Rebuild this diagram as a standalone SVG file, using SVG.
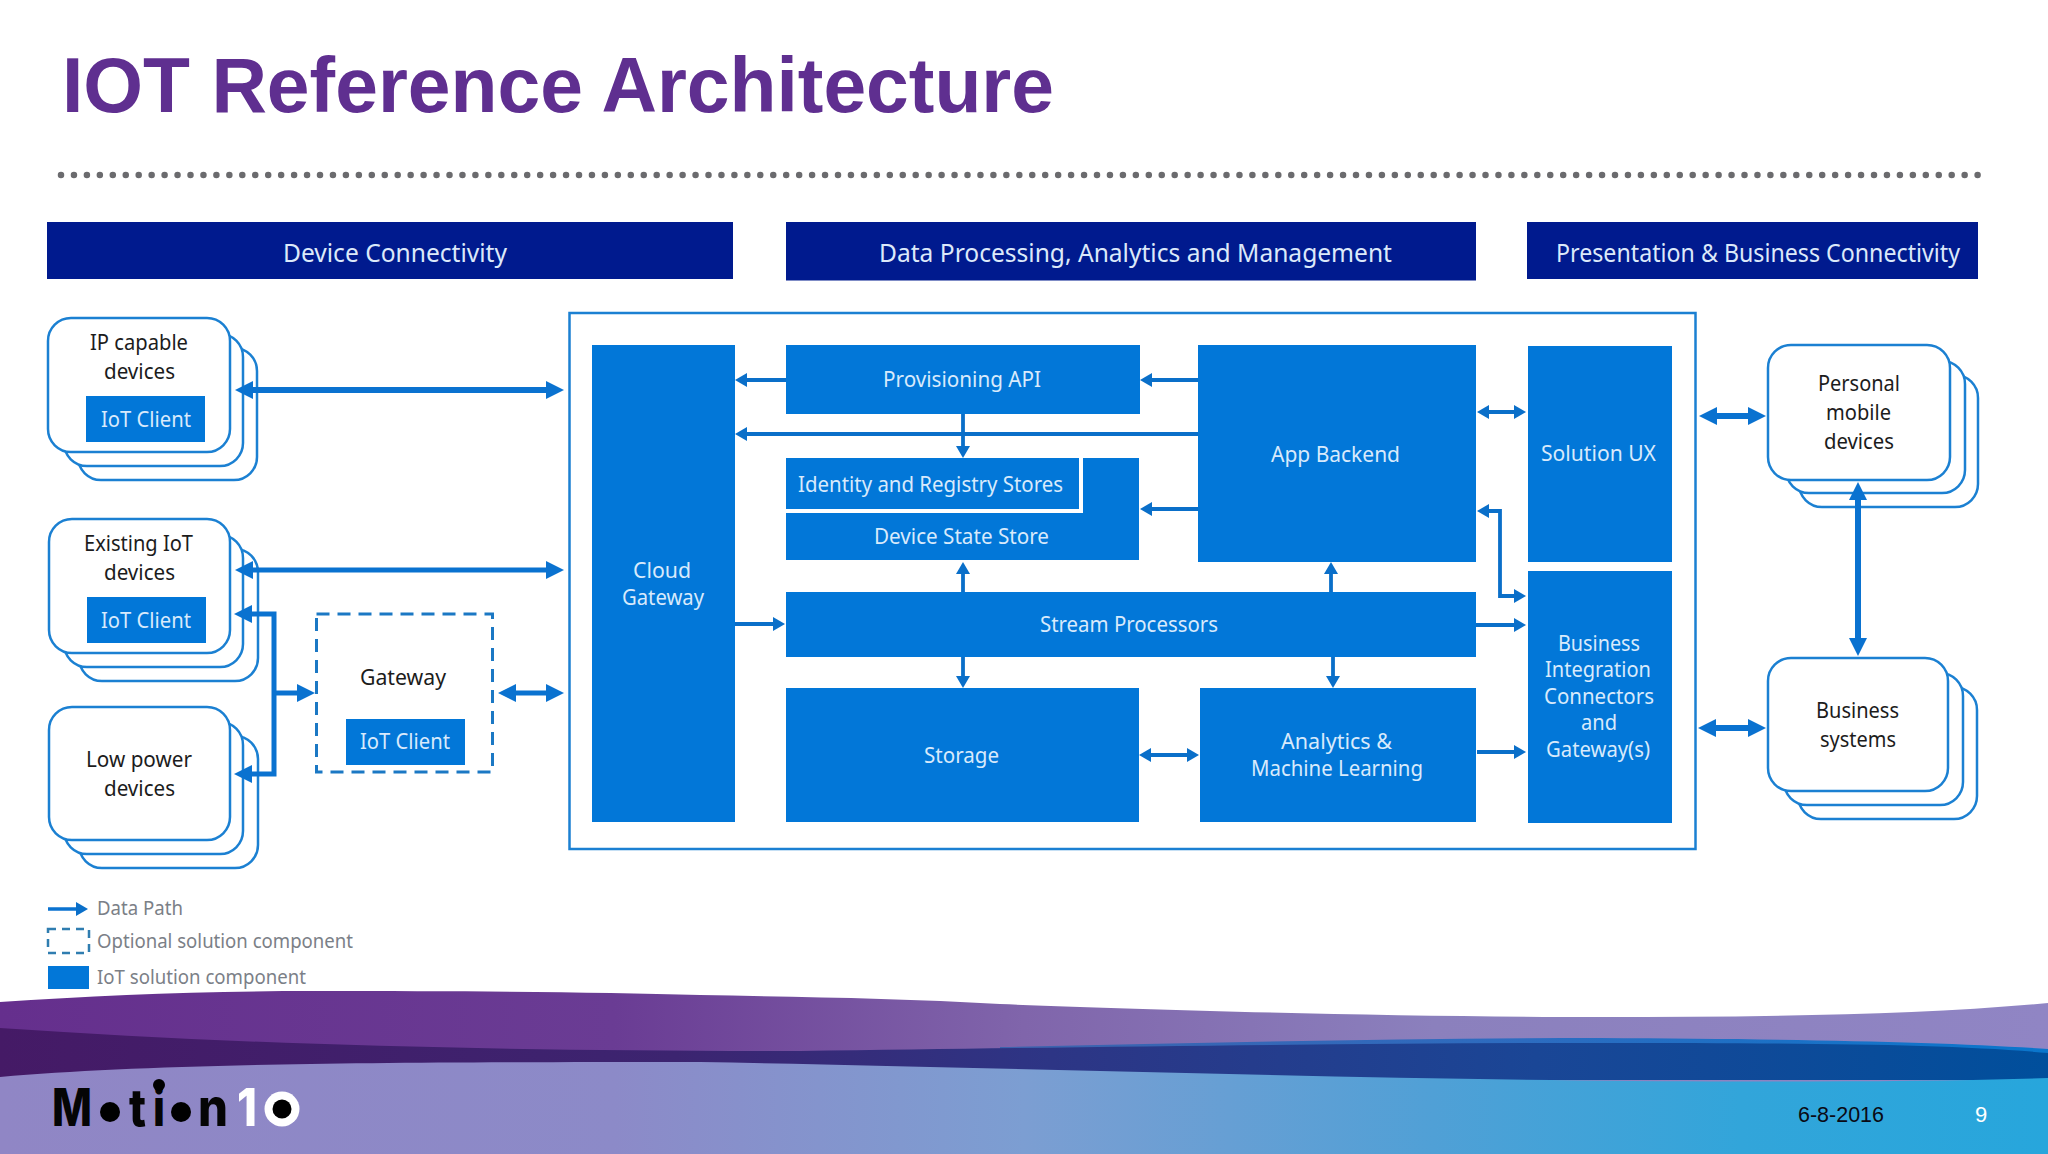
<svg xmlns="http://www.w3.org/2000/svg" width="2048" height="1154" viewBox="0 0 2048 1154">
<style>
text{font-family:"Noto Sans","Open Sans",sans-serif}
.hdr{fill:#001a8e}
.box{fill:#0277d8}
.card{fill:#fff;stroke:#1b80d2;stroke-width:2.5}
.hd{font-size:25.5px;fill:#dce9fa}
.w{font-size:22px;fill:#d8eafc}
.k{font-size:22px;fill:#1c1c1c}
.lg{font-size:20px;fill:#7b8087}
.logo{font-family:"Inter",sans-serif;font-weight:800;font-size:52px;fill:#050505}
.thick{fill:none;stroke:#0a72d0;stroke-width:6;marker-start:url(#hl);marker-end:url(#hl)}
.mid{fill:none;stroke:#0a72d0;stroke-width:5;marker-start:url(#hl);marker-end:url(#hl)}
.thin{fill:none;stroke:#0a6fc9;stroke-width:3.8;marker-end:url(#hs)}
.both{marker-start:url(#hs)}
</style>
<defs>
<marker id="hl" markerUnits="userSpaceOnUse" markerWidth="18" markerHeight="18" refX="8" refY="9" orient="auto-start-reverse"><path d="M0,0 L18,9 L0,18 Z" fill="#0a72d0"/></marker>
<marker id="hs" markerUnits="userSpaceOnUse" markerWidth="12" markerHeight="14" refX="4" refY="7" orient="auto-start-reverse"><path d="M0,0 L12,7 L0,14 Z" fill="#0a6fc9"/></marker>
<linearGradient id="g1" gradientUnits="userSpaceOnUse" x1="0" y1="0" x2="2048" y2="0"><stop offset="0" stop-color="#652f8d"/><stop offset=".3" stop-color="#6a3c94"/><stop offset=".5" stop-color="#8065ab"/><stop offset=".7" stop-color="#8b80bd"/><stop offset="1" stop-color="#9085c4"/></linearGradient>
<linearGradient id="g2" gradientUnits="userSpaceOnUse" x1="0" y1="0" x2="2048" y2="0"><stop offset="0" stop-color="#451a66"/><stop offset=".33" stop-color="#3c2470"/><stop offset=".5" stop-color="#2e3484"/><stop offset=".75" stop-color="#1a4696"/><stop offset="1" stop-color="#004f9c"/></linearGradient>
<linearGradient id="g3" gradientUnits="userSpaceOnUse" x1="0" y1="0" x2="2048" y2="0"><stop offset="0" stop-color="#9086c5"/><stop offset=".3" stop-color="#8c8ac8"/><stop offset=".5" stop-color="#7c9ed2"/><stop offset=".7" stop-color="#50a0d6"/><stop offset=".85" stop-color="#32a5da"/><stop offset="1" stop-color="#27a6dc"/></linearGradient>
<linearGradient id="g4" gradientUnits="userSpaceOnUse" x1="1000" y1="0" x2="2048" y2="0"><stop offset="0" stop-color="#3d62ad"/><stop offset=".5" stop-color="#2d6cc0"/><stop offset="1" stop-color="#0a76cc"/></linearGradient>
</defs>
<rect width="2048" height="1154" fill="#fff"/>

<g id="footer">
<path fill="url(#g1)" d="M0,1002 C100,995 210,991 312,991 C480,991 600,992 700,995 C800,997 900,998 1000,1004 C1150,1010 1400,1017 1600,1017 C1760,1017 1920,1015 2048,1003 V1100 H0 Z"/>
<path fill="url(#g4)" d="M1000,1047 C1200,1043 1400,1038 1600,1038 C1800,1039 1950,1042 2048,1049 V1060 H1000 Z"/>
<path fill="url(#g2)" d="M0,1028 C250,1045 500,1051 800,1051 C1100,1047 1350,1043 1600,1043 C1800,1043 1950,1044 2048,1053 V1080 H0 Z"/>
<path fill="url(#g3)" d="M0,1077 C150,1064 350,1062 700,1062 C1000,1067 1400,1081 1735,1081.5 C1850,1081.5 1950,1081 2048,1078 V1154 H0 Z"/>
</g>

<g id="title"><text x="62" y="112" font-size="77" font-weight="700" fill="#5f2f90" style="font-family:'Liberation Sans',Arial,sans-serif" textLength="992" lengthAdjust="spacingAndGlyphs">IOT Reference Architecture</text></g>
<line x1="61" y1="175" x2="1978" y2="175" stroke="#6b6b6e" stroke-width="6.5" stroke-linecap="round" stroke-dasharray="0 12.95"/>

<g id="hdr-device"><rect class="hdr" x="47" y="222" width="686" height="57"/><text class="hd" x="283" y="262" textLength="224" lengthAdjust="spacingAndGlyphs">Device Connectivity</text></g>
<g id="hdr-data"><rect class="hdr" x="786" y="222" width="690" height="58.5"/><text class="hd" x="879" y="262" textLength="513" lengthAdjust="spacingAndGlyphs">Data Processing, Analytics and Management</text></g>
<g id="hdr-presentation"><rect class="hdr" x="1527" y="222" width="451" height="57"/><text class="hd" x="1556" y="262" textLength="404" lengthAdjust="spacingAndGlyphs">Presentation &amp; Business Connectivity</text></g>

<g id="ip-devices">
<rect class="card" x="78" y="348" width="179" height="132" rx="23"/><rect class="card" x="64" y="334" width="179" height="132" rx="23"/><rect class="card" x="48" y="318" width="182" height="134" rx="23"/>
<text class="k" x="90" y="350" textLength="98" lengthAdjust="spacingAndGlyphs">IP capable</text><text class="k" x="104" y="379" textLength="71" lengthAdjust="spacingAndGlyphs">devices</text>
<rect class="box" x="86" y="396" width="119" height="46"/><text class="w" x="101" y="427" textLength="90" lengthAdjust="spacingAndGlyphs">IoT Client</text>
</g>
<g id="existing-devices">
<rect class="card" x="79" y="549" width="179" height="132" rx="23"/><rect class="card" x="64" y="535" width="179" height="132" rx="23"/><rect class="card" x="49" y="519" width="181" height="134" rx="23"/>
<text class="k" x="84" y="551" textLength="109" lengthAdjust="spacingAndGlyphs">Existing IoT</text><text class="k" x="104" y="580" textLength="71" lengthAdjust="spacingAndGlyphs">devices</text>
<rect class="box" x="87" y="597" width="119" height="46"/><text class="w" x="101" y="628" textLength="90" lengthAdjust="spacingAndGlyphs">IoT Client</text>
</g>
<g id="low-power-devices">
<rect class="card" x="79" y="736" width="179" height="132" rx="23"/><rect class="card" x="64" y="722" width="179" height="132" rx="23"/><rect class="card" x="49" y="707" width="181" height="133" rx="23"/>
<text class="k" x="86" y="767" textLength="106" lengthAdjust="spacingAndGlyphs">Low power</text><text class="k" x="104" y="796" textLength="71" lengthAdjust="spacingAndGlyphs">devices</text>
</g>
<g id="gateway">
<rect x="316.5" y="614" width="176" height="158" fill="#fff" stroke="#1b78c4" stroke-width="3" stroke-dasharray="13 8"/>
<text class="k" x="360" y="685" textLength="86" lengthAdjust="spacingAndGlyphs">Gateway</text>
<rect class="box" x="346" y="719" width="119" height="46"/><text class="w" x="360" y="749" textLength="90" lengthAdjust="spacingAndGlyphs">IoT Client</text>
</g>

<g id="container"><rect x="569.5" y="313" width="1126" height="536" fill="#fff" stroke="#1b80d2" stroke-width="2.5"/></g>

<g id="cloud-gateway"><rect class="box" x="592" y="345" width="143" height="477"/><text class="w" x="633" y="578" textLength="58" lengthAdjust="spacingAndGlyphs">Cloud</text><text class="w" x="622" y="605" textLength="82" lengthAdjust="spacingAndGlyphs">Gateway</text></g>
<g id="provisioning-api"><rect class="box" x="786" y="345" width="354" height="69"/><text class="w" x="883" y="387" textLength="158" lengthAdjust="spacingAndGlyphs">Provisioning API</text></g>
<g id="device-state-store"><rect class="box" x="786" y="458" width="353" height="102"/><text class="w" x="874" y="544" textLength="175" lengthAdjust="spacingAndGlyphs">Device State Store</text></g>
<g id="identity-registry"><path d="M1081,458 V511 H786" fill="none" stroke="#fff" stroke-width="4"/><text class="w" x="798" y="492" textLength="265" lengthAdjust="spacingAndGlyphs">Identity and Registry Stores</text></g>
<g id="app-backend"><rect class="box" x="1198" y="345" width="278" height="217"/><text class="w" x="1271" y="462" textLength="129" lengthAdjust="spacingAndGlyphs">App Backend</text></g>
<g id="stream-processors"><rect class="box" x="786" y="592" width="690" height="65"/><text class="w" x="1040" y="632" textLength="178" lengthAdjust="spacingAndGlyphs">Stream Processors</text></g>
<g id="storage"><rect class="box" x="786" y="688" width="353" height="134"/><text class="w" x="924" y="763" textLength="75" lengthAdjust="spacingAndGlyphs">Storage</text></g>
<g id="analytics"><rect class="box" x="1200" y="688" width="276" height="134"/><text class="w" x="1281" y="749" textLength="111" lengthAdjust="spacingAndGlyphs">Analytics &amp;</text><text class="w" x="1251" y="776" textLength="172" lengthAdjust="spacingAndGlyphs">Machine Learning</text></g>
<g id="solution-ux"><rect class="box" x="1528" y="346" width="144" height="216"/><text class="w" x="1541" y="461" textLength="115" lengthAdjust="spacingAndGlyphs">Solution UX</text></g>
<g id="business-integration"><rect class="box" x="1528" y="571" width="144" height="252"/>
<text class="w" x="1558" y="651" textLength="82" lengthAdjust="spacingAndGlyphs">Business</text><text class="w" x="1545" y="677" textLength="106" lengthAdjust="spacingAndGlyphs">Integration</text><text class="w" x="1544" y="704" textLength="110" lengthAdjust="spacingAndGlyphs">Connectors</text><text class="w" x="1581" y="730" textLength="36" lengthAdjust="spacingAndGlyphs">and</text><text class="w" x="1546" y="757" textLength="104" lengthAdjust="spacingAndGlyphs">Gateway(s)</text></g>

<g id="personal-devices">
<rect class="card" x="1799" y="375" width="179" height="132" rx="23"/><rect class="card" x="1786" y="361" width="179" height="132" rx="23"/><rect class="card" x="1768" y="345" width="182" height="135" rx="23"/>
<text class="k" x="1818" y="391" textLength="82" lengthAdjust="spacingAndGlyphs">Personal</text><text class="k" x="1826" y="420" textLength="65" lengthAdjust="spacingAndGlyphs">mobile</text><text class="k" x="1824" y="449" textLength="70" lengthAdjust="spacingAndGlyphs">devices</text>
</g>
<g id="business-systems">
<rect class="card" x="1798" y="687" width="179" height="132" rx="23"/><rect class="card" x="1784" y="673" width="179" height="132" rx="23"/><rect class="card" x="1768" y="658" width="180" height="133" rx="23"/>
<text class="k" x="1816" y="718" textLength="83" lengthAdjust="spacingAndGlyphs">Business</text><text class="k" x="1820" y="747" textLength="76" lengthAdjust="spacingAndGlyphs">systems</text>
</g>

<g id="connectors">
<path class="thick" d="M245,390 H554"/>
<path class="mid" d="M245,570 H554"/>
<path class="mid" d="M244,614 H274 V774 H244" />
<path class="mid" style="marker-start:none" d="M274,693 H305"/>
<path class="mid" d="M508,693 H554"/>
<path class="thick" d="M1709,416 H1756"/>
<path class="thick" d="M1708,728 H1756"/>
<path class="thick" d="M1858,492 V646"/>
<path class="thin" d="M786,380 H743"/>
<path class="thin" d="M1198,380 H1148"/>
<path class="thin" d="M1198,434 H743"/>
<path class="thin" d="M963,414 V450"/>
<path class="thin" d="M1198,509 H1148"/>
<path class="thin" d="M963,592 V570"/>
<path class="thin" d="M1331,592 V570"/>
<path class="thin" d="M735,624 H777"/>
<path class="thin" d="M963,657 V680"/>
<path class="thin" d="M1333,657 V680"/>
<path class="thin both" d="M1485,412 H1518"/>
<path class="thin both" d="M1485,511 H1500 V596 H1518"/>
<path class="thin" d="M1476,625 H1518"/>
<path class="thin" d="M1477,752 H1518"/>
<path class="thin both" d="M1147,755 H1191"/>
</g>

<g id="legend">
<path d="M48,909 H80" stroke="#0a72d0" stroke-width="3.5" fill="none" style="marker-end:url(#hs)"/>
<text class="lg" x="97" y="915" textLength="86" lengthAdjust="spacingAndGlyphs">Data Path</text>
<rect x="48" y="929" width="41" height="24" fill="none" stroke="#2f7db0" stroke-width="2.5" stroke-dasharray="8 6"/>
<text class="lg" x="97" y="948" textLength="256" lengthAdjust="spacingAndGlyphs">Optional solution component</text>
<rect class="box" x="48" y="966" width="41" height="23"/>
<text class="lg" x="97" y="984" textLength="209" lengthAdjust="spacingAndGlyphs">IoT solution component</text>
</g>

<g id="logo">
<text class="logo" x="52" y="1126" textLength="40" lengthAdjust="spacingAndGlyphs">M</text>
<circle cx="110" cy="1112" r="10"/>
<text class="logo" x="129" y="1126" textLength="17" lengthAdjust="spacingAndGlyphs">t</text>
<text class="logo" x="153" y="1126" textLength="12" lengthAdjust="spacingAndGlyphs">i</text>
<circle cx="159" cy="1085" r="6"/>
<circle cx="181" cy="1112" r="10"/>
<text class="logo" x="198" y="1126" textLength="30" lengthAdjust="spacingAndGlyphs">n</text>
<text class="logo" style="fill:#fff" x="237" y="1126" textLength="20" lengthAdjust="spacingAndGlyphs">1</text>
<circle cx="282" cy="1109" r="17.5" fill="#fff"/><circle cx="282" cy="1109" r="9.5"/>
</g>
<g id="footer-text">
<text x="1798" y="1122" font-size="22" fill="#0a0a14" style="font-family:'Liberation Sans',Arial,sans-serif" textLength="86" lengthAdjust="spacingAndGlyphs">6-8-2016</text>
<text x="1975" y="1122" font-size="22" fill="#fff" style="font-family:'Liberation Sans',Arial,sans-serif">9</text>
</g>
</svg>
